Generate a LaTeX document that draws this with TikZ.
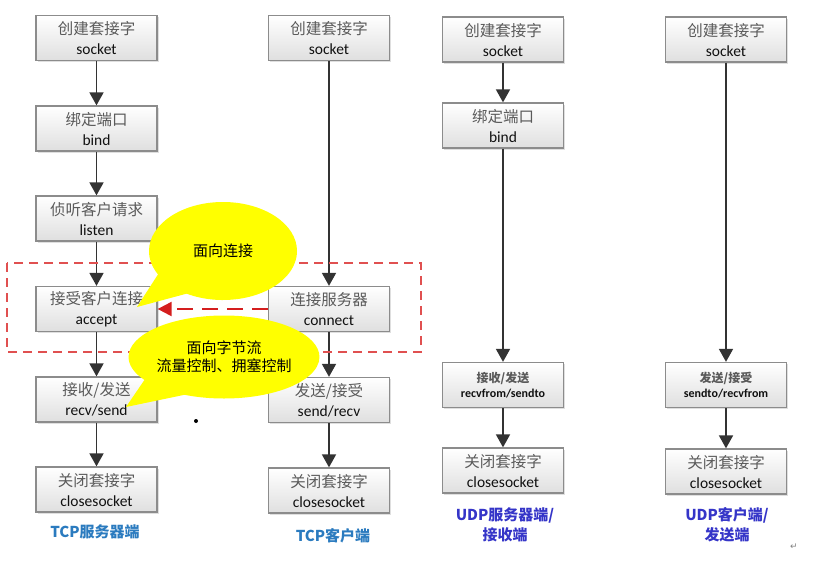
\documentclass[tikz,border=0pt]{standalone}
\usepackage{fontspec}
\setmainfont{Carlito}
\newfontfamily\cjk{Noto Sans CJK SC}
\newfontfamily\symfont{DejaVu Sans}
\usetikzlibrary{arrows.meta,shapes.callouts,shadows}
\definecolor{boxline}{HTML}{8C8C8C}
\definecolor{cngray}{HTML}{5A5A5A}
\definecolor{engray}{HTML}{111111}
\definecolor{flowline}{HTML}{333333}
\definecolor{tcpblue}{HTML}{2B7BBF}
\definecolor{udpblue}{HTML}{3535C8}
\definecolor{dashred}{HTML}{E05050}
\definecolor{arrowred}{HTML}{D41E1E}
\definecolor{bubble}{HTML}{FFFF00}
\newcommand{\twoline}[2]{{\cjk\color{cngray}#1}\\{\color{engray}#2}}
\tikzset{
  sockbox/.style={draw=boxline, line width=1.3pt, top color=white, bottom color=gray!25,
    minimum width=121pt, minimum height=45pt, inner sep=0pt, align=center,
    font=\fontsize{15.5}{20}\selectfont,
    drop shadow={shadow xshift=1.5pt,shadow yshift=-1.5pt,opacity=0.25}},
  smallbox/.style={sockbox, font=\fontsize{12}{14.5}\selectfont\bfseries},
  flow/.style={draw=flowline, line width=1.8pt, -{Triangle[length=13pt,width=14pt]}},
  bubblenote/.style={ellipse callout, fill=bubble, inner sep=0pt, align=center,
    callout pointer arc=32, font=\cjk\fontsize{15}{18}\selectfont},
  sidelabel/.style={align=center, font=\cjk\bfseries\fontsize{15}{20}\selectfont}
}
\begin{document}
\begin{tikzpicture}[x=1pt,y=-1pt]
\useasboundingbox (0,0) rectangle (814,563);
% TCP server
\node[sockbox] (srvsock) at (96.5,38) {\twoline{创建套接字}{socket}};
\node[sockbox] (srvbind) at (96.5,128.5) {\twoline{绑定端口}{bind}};
\node[sockbox] (srvlisten) at (96.5,218.5) {\twoline{侦听客户请求}{listen}};
\node[sockbox] (srvaccept) at (96.5,309) {\twoline{接受客户连接}{accept}};
\node[sockbox] (srvrecv) at (96.5,399.5) {\twoline{接收/发送}{recv/send}};
\node[sockbox] (srvclose) at (96.5,489.5) {\twoline{关闭套接字}{closesocket}};
% TCP client
\node[sockbox] (clisock) at (329,38) {\twoline{创建套接字}{socket}};
\node[sockbox] (cliconn) at (329,309) {\twoline{连接服务器}{connect}};
\node[sockbox] (clisend) at (329,400) {\twoline{发送/接受}{send/recv}};
\node[sockbox] (cliclose) at (329,490.5) {\twoline{关闭套接字}{closesocket}};
% UDP server
\node[sockbox] (usrvsock) at (503,39.5) {\twoline{创建套接字}{socket}};
\node[sockbox] (usrvbind) at (503,125.5) {\twoline{绑定端口}{bind}};
\node[smallbox] (usrvrecv) at (503,385) {\twoline{接收/发送}{recvfrom/sendto}};
\node[sockbox] (usrvclose) at (503,470.5) {\twoline{关闭套接字}{closesocket}};
% UDP client
\node[sockbox] (uclisock) at (726,39.5) {\twoline{创建套接字}{socket}};
\node[smallbox] (uclisend) at (726,385) {\twoline{发送/接受}{sendto/recvfrom}};
\node[sockbox] (ucliclose) at (726,471.5) {\twoline{关闭套接字}{closesocket}};

\draw[flow] (srvsock) -- (srvbind);
\draw[flow] (srvbind) -- (srvlisten);
\draw[flow] (srvlisten) -- (srvaccept);
\draw[flow] (srvaccept) -- (srvrecv);
\draw[flow] (srvrecv) -- (srvclose);
\draw[flow] (clisock) -- (cliconn);
\draw[flow] (cliconn) -- (clisend);
\draw[flow] (clisend) -- (cliclose);
\draw[flow] (usrvsock) -- (usrvbind);
\draw[flow] (usrvbind) -- (usrvrecv);
\draw[flow] (usrvrecv) -- (usrvclose);
\draw[flow] (uclisock) -- (uclisend);
\draw[flow] (uclisend) -- (ucliclose);

% connection setup
\draw[dashred, line width=1.6pt, dash pattern=on 9pt off 6pt] (7,263) rectangle (421,352);
\draw[arrowred, line width=2.2pt, dash pattern=on 16pt off 9pt,
  -{Triangle[length=14pt,width=14pt]}] (cliconn.west) -- (srvaccept.east);

% notes
\coordinate (tipconn) at (137,307);
\coordinate (tipstream) at (126,407);
\node[bubblenote, minimum width=148pt, minimum height=98pt,
  callout absolute pointer={(tipconn)}] (noteconn) at (223,251) {面向连接};
\node[bubblenote, minimum width=170pt, minimum height=83pt,
  callout absolute pointer={(tipstream)}] (notestream) at (224,357)
  {面向字节流\\流量控制、拥塞控制};
\fill (196,421) circle (2pt);

% labels
\node[sidelabel, text=tcpblue] (tcpsrv) at (95,532) {TCP服务器端};
\node[sidelabel, text=tcpblue] (tcpcli) at (333,536) {TCP客户端};
\node[sidelabel, text=udpblue] (udpsrv) at (505,525) {UDP服务器端/\\接收端};
\node[sidelabel, text=udpblue] (udpcli) at (727,525) {UDP客户端/\\发送端};
\node[text=gray, font=\symfont\fontsize{9}{9}\selectfont] (retmark) at (794,547) {↵};
\end{tikzpicture}
\end{document}
